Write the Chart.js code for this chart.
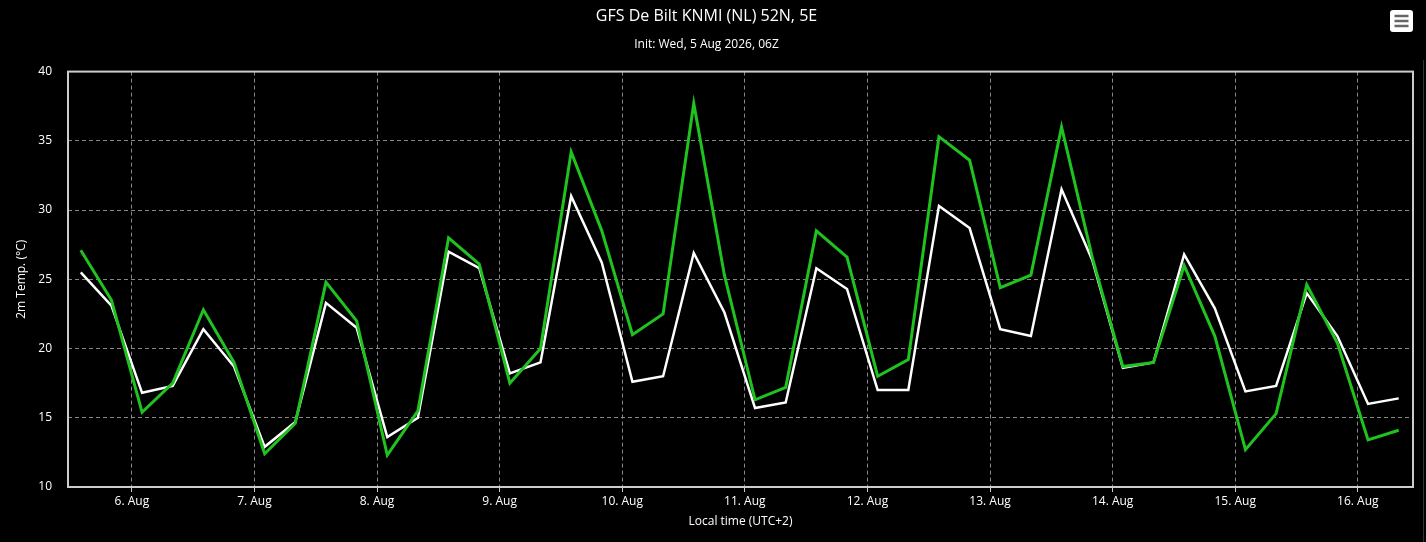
<!DOCTYPE html>
<html>
<head>
<meta charset="utf-8">
<script src="https://cdn.jsdelivr.net/npm/chart.js@4"></script>
<style>
  html, body { margin: 0; padding: 0; background: #000; }
  #wrap { width: 1426px; height: 542px; position: relative; }
</style>
</head>
<body>
<div id="wrap"><canvas id="meteogram" width="1426" height="542"></canvas></div>
<script>
// Hours relative to 6 Aug 00:00 local time (UTC+2), one value every 6 h
const firstHour = -10;
const stepHours = 6;
const dayLabels = ['6. Aug','7. Aug','8. Aug','9. Aug','10. Aug','11. Aug','12. Aug','13. Aug','14. Aug','15. Aug','16. Aug'];
const yTicks = [10, 15, 20, 25, 30, 35, 40];

// 2m temperature, green and white lines (°C)
const tempGreen = [
  27.1, 23.5, 15.4, 17.5, 22.8, 19.0, 12.4, 14.6,
  24.8, 22.0, 12.3, 15.5, 28.0, 26.1, 17.5, 20.0,
  34.2, 28.5, 21.0, 22.5, 37.7, 25.3, 16.3, 17.2,
  28.5, 26.6, 18.0, 19.2, 35.3, 33.6, 24.4, 25.3,
  36.0, 26.6, 18.7, 19.0, 26.0, 20.9, 12.7, 15.3,
  24.6, 20.4, 13.4, 14.1
];
const tempWhite = [
  25.5, 23.1, 16.8, 17.3, 21.4, 18.7, 12.9, 14.7,
  23.3, 21.5, 13.6, 15.0, 27.0, 25.8, 18.2, 19.0,
  31.0, 26.2, 17.6, 18.0, 26.9, 22.6, 15.7, 16.1,
  25.8, 24.3, 17.0, 17.0, 30.3, 28.7, 21.4, 20.9,
  31.5, 26.4, 18.6, 19.0, 26.8, 22.9, 16.9, 17.3,
  24.0, 20.9, 16.0, 16.4
];

const toPoints = arr => arr.map((v, i) => ({ x: firstHour + i * stepHours, y: v }));

const FONT = '"Open Sans", "DejaVu Sans", sans-serif';
const GRID = 'rgba(150,150,150,0.9)';

// plot frame + menu button
const decor = {
  id: 'decor',
  beforeDatasetsDraw(chart) {
    const { ctx, chartArea: a } = chart;
    ctx.save();
    ctx.strokeStyle = '#cccccc';
    ctx.lineWidth = 2;
    ctx.strokeRect(a.left, a.top, a.right - a.left, a.bottom - a.top);
    ctx.restore();
  },
  afterDraw(chart) {
    const ctx = chart.ctx;
    ctx.save();
    ctx.fillStyle = '#ffffff';
    ctx.beginPath();
    ctx.roundRect(1390, 10, 23, 22, 3);
    ctx.fill();
    ctx.strokeStyle = '#666666';
    ctx.lineWidth = 2.5;
    [16, 21, 26].forEach(y => {
      ctx.beginPath();
      ctx.moveTo(1394.5, y);
      ctx.lineTo(1408.5, y);
      ctx.stroke();
    });
    ctx.strokeStyle = '#333333';
    ctx.lineWidth = 1;
    ctx.beginPath();
    ctx.moveTo(1423.5, 60);
    ctx.lineTo(1423.5, 542);
    ctx.stroke();
    ctx.restore();
  }
};

new Chart(document.getElementById('meteogram').getContext('2d'), {
  type: 'line',
  data: {
    datasets: [
      {
        label: 'Temp',
        data: toPoints(tempGreen),
        borderColor: '#1fc21f',
        borderWidth: 3,
        pointRadius: 0,
        tension: 0,
        order: 0
      },
      {
        label: 'Temp (white)',
        data: toPoints(tempWhite),
        borderColor: '#ffffff',
        borderWidth: 2.5,
        pointRadius: 0,
        tension: 0,
        order: 1
      }
    ]
  },
  options: {
    responsive: false,
    animation: false,
    layout: { padding: { left: 0, right: 13, top: 0, bottom: 0 } },
    plugins: {
      legend: { display: false },
      tooltip: { enabled: false },
      title: {
        display: true,
        text: 'GFS De Bilt KNMI (NL) 52N, 5E',
        color: '#ffffff',
        font: { family: FONT, size: 16, weight: 'normal' },
        padding: { top: 7, bottom: 11 }
      },
      subtitle: {
        display: true,
        text: 'Init: Wed, 5 Aug 2026, 06Z',
        color: '#ffffff',
        font: { family: FONT, size: 12, weight: 'normal' },
        padding: { top: 0, bottom: 20 }
      }
    },
    scales: {
      x: {
        type: 'linear',
        min: -12.5,
        max: 250.8,
        afterBuildTicks: scale => {
          scale.ticks = dayLabels.map((_, i) => ({ value: i * 24 }));
        },
        afterFit: scale => { scale.height = 55; },
        ticks: {
          color: '#ffffff',
          font: { family: FONT, size: 12 },
          padding: 2,
          maxRotation: 0,
          autoSkip: false,
          callback: v => dayLabels[Math.round(v / 24)]
        },
        grid: {
          color: GRID,
          lineWidth: 1,
          tickLength: 5,
          tickColor: '#cccccc',
          tickBorderDash: []
        },
        border: { display: false, dash: [4, 3] },
        title: {
          display: true,
          text: 'Local time (UTC+2)',
          color: '#ffffff',
          font: { family: FONT, size: 12 },
          padding: { top: 0, bottom: 13 }
        }
      },
      y: {
        min: 10,
        max: 40,
        afterBuildTicks: scale => {
          scale.ticks = yTicks.map(v => ({ value: v }));
        },
        afterFit: scale => { scale.width = 68; },
        ticks: {
          color: '#ffffff',
          font: { family: FONT, size: 12 },
          padding: 16
        },
        grid: {
          color: GRID,
          lineWidth: 1,
          drawTicks: false
        },
        border: { display: false, dash: [4, 3] },
        title: {
          display: true,
          text: '2m Temp. (°C)',
          color: '#ffffff',
          font: { family: FONT, size: 12 },
          padding: { top: 14, bottom: 0 }
        }
      }
    }
  },
  plugins: [decor]
});
</script>
</body>
</html>
